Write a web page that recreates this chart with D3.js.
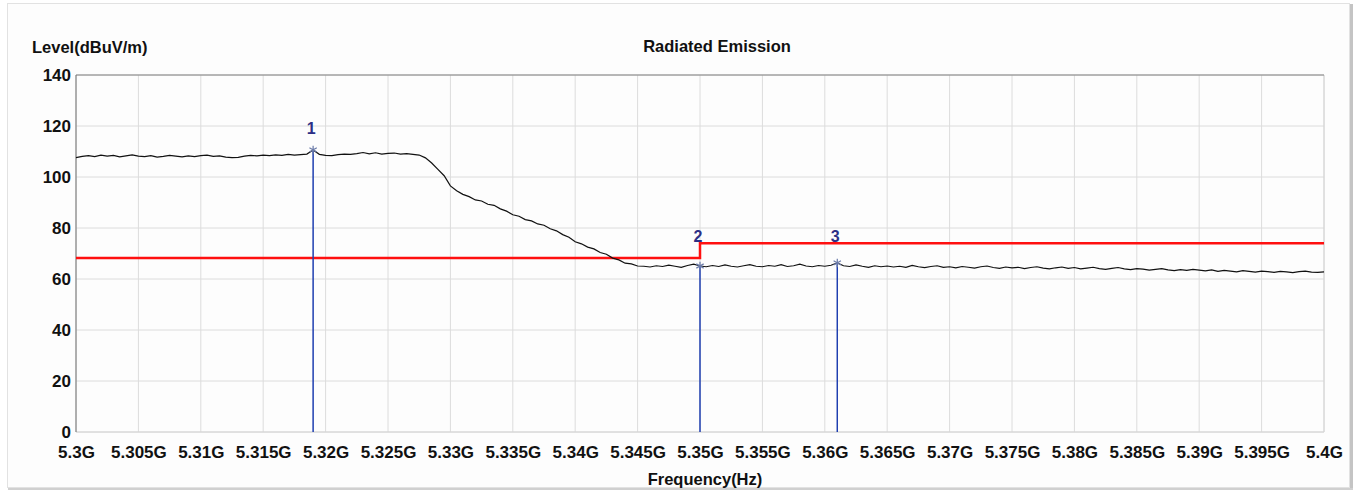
<!DOCTYPE html>
<html lang="en">
<head>
<meta charset="UTF-8">
<title>Radiated Emission</title>
<style>
  body { margin: 0; background: #fff; }
  svg text { font-family: "Liberation Sans", Arial, sans-serif; font-weight: bold; fill: #111; }
</style>
</head>
<body>
<div id="chart"></div>
<script src="https://d3js.org/d3.v7.min.js"></script>
<script>
const width = 1359
const height = 492
const margin = { left: 76, right: 35, top: 75, bottom: 60 }

// trace: start freq (GHz), step (GHz), level (dBuV/m)
const freqStart = 5.3
const freqStep = 0.0005
const levels = [
  107.6, 108.1, 108.4, 108.0, 108.6, 108.2, 108.5, 107.9, 108.3, 108.7, 108.2,
  108.0, 108.4, 107.8, 108.1, 108.5, 108.2, 107.9, 108.3, 108.0, 108.4,
  108.6, 108.1, 108.3, 107.8, 107.6, 107.7, 108.2, 108.5, 108.3, 108.6,
  108.4, 108.7, 108.5, 108.9, 108.6, 108.8, 109.0, 110.6, 108.9, 108.5,
  108.4, 108.8, 109.0, 108.9, 109.2, 109.6, 109.1, 109.5, 109.0, 109.3,
  109.4, 109.0, 109.2, 108.9, 108.6, 107.5, 105.5, 103.0, 100.5, 96.5,
  94.6, 93.2, 92.3, 91.0, 90.6, 89.3, 88.9, 87.5, 86.6, 85.2,
  84.6, 83.3, 82.8, 81.6, 81.1, 79.7, 78.9, 77.4, 76.4, 74.6,
  73.8, 72.5, 71.8, 70.4, 69.7, 68.2, 67.5, 66.2, 65.9, 65.1,
  65.0, 64.7, 65.2, 64.9, 65.4, 65.0, 64.6, 65.3, 65.8, 65.1,
  64.8, 65.3, 64.9, 65.5, 65.0, 64.7, 65.2, 65.6, 65.0, 64.8,
  65.3, 65.0, 65.6, 64.9, 65.2, 65.8, 65.1, 64.8, 65.3, 65.0,
  65.4, 66.3, 65.2, 64.9, 65.5, 65.0, 64.6, 65.2, 64.8, 65.1,
  64.7, 65.0, 64.6, 65.3, 64.8, 64.5, 64.9, 65.2, 64.6, 64.8,
  64.4, 64.9, 64.6, 64.3, 64.8, 65.1, 64.5, 64.2, 64.7, 64.4,
  64.6, 64.1, 64.5, 64.8, 64.3, 64.0, 64.4, 64.7, 64.2, 64.5,
  64.0, 64.3, 64.6, 64.1, 63.8, 64.2, 64.5, 64.0, 63.7, 64.1,
  63.9, 63.5, 63.8, 64.1, 63.6, 63.3, 63.7, 63.4, 63.8, 63.5,
  63.2, 63.6, 63.0, 63.4, 63.1, 62.8, 63.3, 63.0, 62.7, 63.1,
  62.9, 62.6, 63.0, 62.8, 62.5, 62.9, 63.1, 62.7, 62.6, 62.8
]

// limit line
const limitFreq = [5.3, 5.35, 5.35, 5.4]
const limitLevel = [68.2, 68.2, 74, 74]

// markers
const markerNo = [1, 2, 3]
const markerFreq = [5.319, 5.35, 5.361]
const markerLevel = [110.6, 65.1, 66.3]

// axes
const xTicks = d3.range(0, 21).map(i => +(5.3 + i * 0.005).toFixed(3))
const yTicks = [0, 20, 40, 60, 80, 100, 120, 140]

const svg = d3.select('#chart')
  .append('svg')
  .attr('width', width)
  .attr('height', height)

// panel frame
svg.append('rect')
  .attr('x', 7.5).attr('y', 3.5)
  .attr('width', 1342).attr('height', 484)
  .attr('fill', '#fdfdfd')
  .attr('stroke', '#e2e2e2')
svg.append('line')
  .attr('x1', 1351.5).attr('x2', 1351.5).attr('y1', 4).attr('y2', 489)
  .attr('stroke', '#c4c4c4').attr('stroke-width', 3)
svg.append('line')
  .attr('x1', 8).attr('x2', 1353).attr('y1', 489).attr('y2', 489)
  .attr('stroke', '#d0d0d0').attr('stroke-width', 2)

const x = d3.scaleLinear()
  .domain([5.3, 5.4])
  .range([margin.left, width - margin.right])
const y = d3.scaleLinear()
  .domain([0, 140])
  .range([height - margin.bottom, margin.top])

// grid
svg.append('g')
  .selectAll('line')
  .data(xTicks)
  .join('line')
  .attr('x1', d => x(d)).attr('x2', d => x(d))
  .attr('y1', y(140)).attr('y2', y(0))
  .attr('stroke', '#dcdcdc')

svg.append('g')
  .selectAll('line')
  .data(yTicks)
  .join('line')
  .attr('x1', x(5.3)).attr('x2', x(5.4))
  .attr('y1', d => y(d)).attr('y2', d => y(d))
  .attr('stroke', '#dcdcdc')

// plot border
svg.append('line')
  .attr('x1', x(5.4)).attr('x2', x(5.4)).attr('y1', y(140)).attr('y2', y(0))
  .attr('stroke', '#d4d4d4')
svg.append('line')
  .attr('x1', x(5.3)).attr('x2', x(5.4)).attr('y1', y(0)).attr('y2', y(0))
  .attr('stroke', '#d4d4d4')
svg.append('line')
  .attr('x1', x(5.3)).attr('x2', x(5.4)).attr('y1', y(140)).attr('y2', y(140))
  .attr('stroke', '#808080')
svg.append('line')
  .attr('x1', x(5.3)).attr('x2', x(5.3)).attr('y1', y(140)).attr('y2', y(0))
  .attr('stroke', '#707070')

// axes (labels only)
const xAxis = d3.axisBottom(x)
  .tickValues(xTicks)
  .tickSize(0)
  .tickPadding(14)
  .tickFormat(d => d3.format('~g')(d) + 'G')
svg.append('g')
  .attr('transform', `translate(0, ${y(0)})`)
  .call(xAxis)
  .call(g => g.select('.domain').remove())
  .call(g => g.selectAll('text').attr('font-size', 17).attr('font-family', null).attr('fill', '#111'))

const yAxis = d3.axisLeft(y)
  .tickValues(yTicks)
  .tickSize(0)
  .tickPadding(5)
svg.append('g')
  .attr('transform', `translate(${x(5.3)}, 0)`)
  .call(yAxis)
  .call(g => g.select('.domain').remove())
  .call(g => g.selectAll('text').attr('font-size', 17).attr('font-family', null).attr('fill', '#111'))

// titles
svg.append('text')
  .attr('x', 717).attr('y', 52)
  .attr('text-anchor', 'middle')
  .attr('font-size', 16.5)
  .text('Radiated Emission')
svg.append('text')
  .attr('x', 32).attr('y', 53)
  .attr('font-size', 16.5)
  .text('Level(dBuV/m)')
svg.append('text')
  .attr('x', 705).attr('y', 485)
  .attr('text-anchor', 'middle')
  .attr('font-size', 16.5)
  .text('Frequency(Hz)')

// limit line
const limitLine = d3.line()
  .x((d, i) => x(limitFreq[i]))
  .y(d => y(d))
svg.append('path')
  .datum(limitLevel)
  .attr('d', limitLine)
  .attr('fill', 'none')
  .attr('stroke', '#ff1010')
  .attr('stroke-width', 2.5)

// marker lines
svg.append('g')
  .selectAll('line')
  .data(markerNo)
  .join('line')
  .attr('x1', (d, i) => x(markerFreq[i])).attr('x2', (d, i) => x(markerFreq[i]))
  .attr('y1', (d, i) => y(markerLevel[i])).attr('y2', y(0))
  .attr('stroke', '#1f3fb0')
  .attr('stroke-width', 1.5)

// trace
const trace = d3.line()
  .x((d, i) => x(freqStart + i * freqStep))
  .y(d => y(d))
svg.append('path')
  .datum(levels)
  .attr('d', trace)
  .attr('fill', 'none')
  .attr('stroke', '#111')
  .attr('stroke-width', 1.2)

// marker symbols + numbers
svg.append('g')
  .selectAll('path')
  .data(markerNo)
  .join('path')
  .attr('transform', (d, i) => `translate(${x(markerFreq[i])}, ${y(markerLevel[i])})`)
  .attr('d', d3.symbol(d3.symbolAsterisk, 50))
  .attr('fill', 'none')
  .attr('stroke', '#6a7aa8')
  .attr('stroke-width', 1.2)

svg.append('g')
  .selectAll('text')
  .data(markerNo)
  .join('text')
  .attr('x', (d, i) => x(markerFreq[i]) - 2)
  .attr('y', (d, i) => i === 0 ? y(markerLevel[i]) - 16 : y(74) - 1)
  .attr('text-anchor', 'middle')
  .attr('font-size', 16)
  .style('fill', '#2c2f86')
  .text(d => d)
</script>
</body>
</html>
